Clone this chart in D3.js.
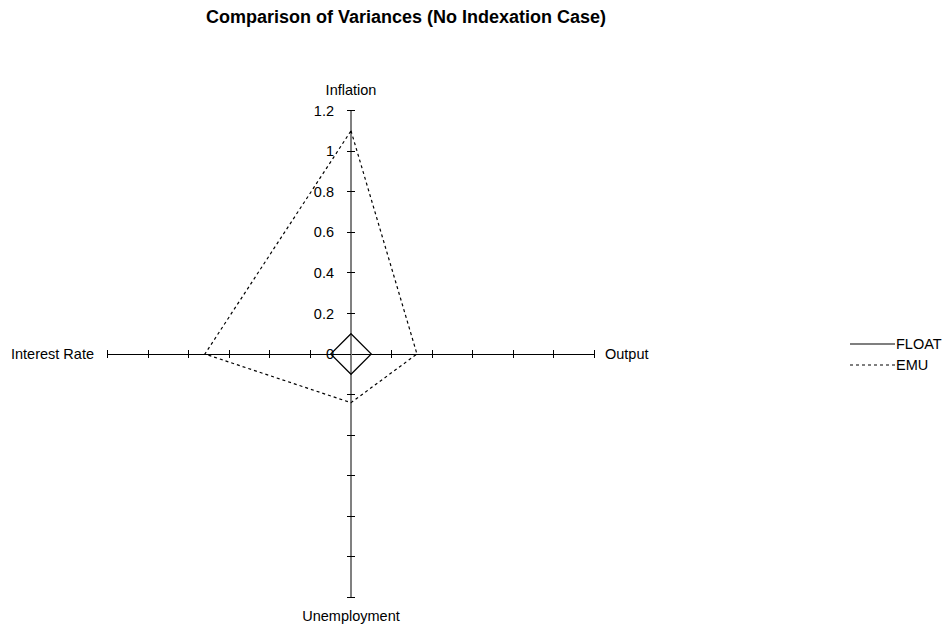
<!DOCTYPE html>
<html>
<head>
<meta charset="utf-8">
<script src="https://cdn.jsdelivr.net/npm/d3@7"></script>
<style>
  html, body { margin: 0; padding: 0; background: #fff; }
  svg { display: block; font-family: "Liberation Sans", Arial, sans-serif; }
</style>
</head>
<body>
<svg id="chart" width="950" height="626"></svg>
<script>
// ---- data ----
const axesNames = ["Inflation", "Output", "Unemployment", "Interest Rate"];
const floatValues = [0.1, 0.1, 0.1, 0.1];
const emuValues = [1.1, 0.325, 0.24, 0.72];
const tickValues = [0, 0.2, 0.4, 0.6, 0.8, 1, 1.2];
const tickLabels = ["0", "0.2", "0.4", "0.6", "0.8", "1", "1.2"];
const seriesNames = ["FLOAT", "EMU"];
const titleText = "Comparison of Variances (No Indexation Case)";

// ---- layout ----
const svg = d3.select("#chart");
const cx = 351, cy = 354;
const r = d3.scaleLinear().domain([0, 1.2]).range([0, 243.5]);
const angle = d3.scalePoint().domain(axesNames).range([0, 2 * Math.PI * 3 / 4]);
const fontSize = 14.5;

svg.append("text")
  .attr("x", 406).attr("y", 23)
  .attr("text-anchor", "middle")
  .attr("font-size", 18).attr("font-weight", "bold")
  .text(titleText);

const g = svg.append("g").attr("transform", `translate(${cx},${cy})`);

// axes
axesNames.forEach((name, i) => {
  const a = angle(name);
  const dx = Math.sin(a), dy = -Math.cos(a);
  const vertical = (i % 2 === 0);
  g.append("line")
    .attr("x1", 0).attr("y1", 0)
    .attr("x2", dx * r(1.2)).attr("y2", dy * r(1.2))
    .attr("stroke", vertical ? "#808080" : "#000")
    .attr("stroke-width", vertical ? 1.3 : 1)
    .attr("shape-rendering", "crispEdges");
  tickValues.slice(1).forEach(v => {
    const px = dx * r(v), py = dy * r(v);
    const nx = -dy * 4, ny = dx * 4;
    g.append("line")
      .attr("x1", px - nx).attr("y1", py - ny)
      .attr("x2", px + nx).attr("y2", py + ny)
      .attr("stroke", "#000").attr("stroke-width", 1)
      .attr("shape-rendering", "crispEdges");
  });
});

// tick labels on Inflation axis
g.selectAll("text.tick")
  .data(tickValues)
  .join("text")
  .attr("class", "tick")
  .attr("x", -17)
  .attr("y", d => -r(d))
  .attr("dy", "0.36em")
  .attr("text-anchor", "end")
  .attr("font-size", fontSize)
  .text((d, i) => tickLabels[i]);

// axis names
const labelPos = {
  "Inflation": { x: 0, y: -259, anchor: "middle", dy: "0" },
  "Output": { x: 254, y: 0, anchor: "start", dy: "0.36em" },
  "Unemployment": { x: 0, y: 267, anchor: "middle", dy: "0" },
  "Interest Rate": { x: -257, y: 0, anchor: "end", dy: "0.36em" }
};
axesNames.forEach(name => {
  const p = labelPos[name];
  g.append("text")
    .attr("x", p.x).attr("y", p.y).attr("dy", p.dy)
    .attr("text-anchor", p.anchor)
    .attr("font-size", fontSize)
    .text(name);
});

// series
const radial = d3.lineRadial()
  .angle((d, i) => angle(axesNames[i]))
  .radius(d => r(d))
  .curve(d3.curveLinearClosed);

g.append("path")
  .attr("d", radial(floatValues))
  .attr("fill", "none").attr("stroke", "#000").attr("stroke-width", 1.2);

g.append("path")
  .attr("d", radial(emuValues))
  .attr("fill", "none").attr("stroke", "#000").attr("stroke-width", 1.2)
  .attr("stroke-dasharray", "3,3");

// legend
const legend = svg.append("g");
const legendY = [344, 365];
const dashes = [null, "3,3"];
seriesNames.forEach((s, i) => {
  legend.append("line")
    .attr("x1", 850).attr("x2", 895)
    .attr("y1", legendY[i]).attr("y2", legendY[i])
    .attr("stroke", "#000").attr("stroke-width", 1.2)
    .attr("stroke-dasharray", dashes[i]);
  legend.append("text")
    .attr("x", 896).attr("y", legendY[i]).attr("dy", "0.36em")
    .attr("font-size", fontSize)
    .text(s);
});
</script>
</body>
</html>
